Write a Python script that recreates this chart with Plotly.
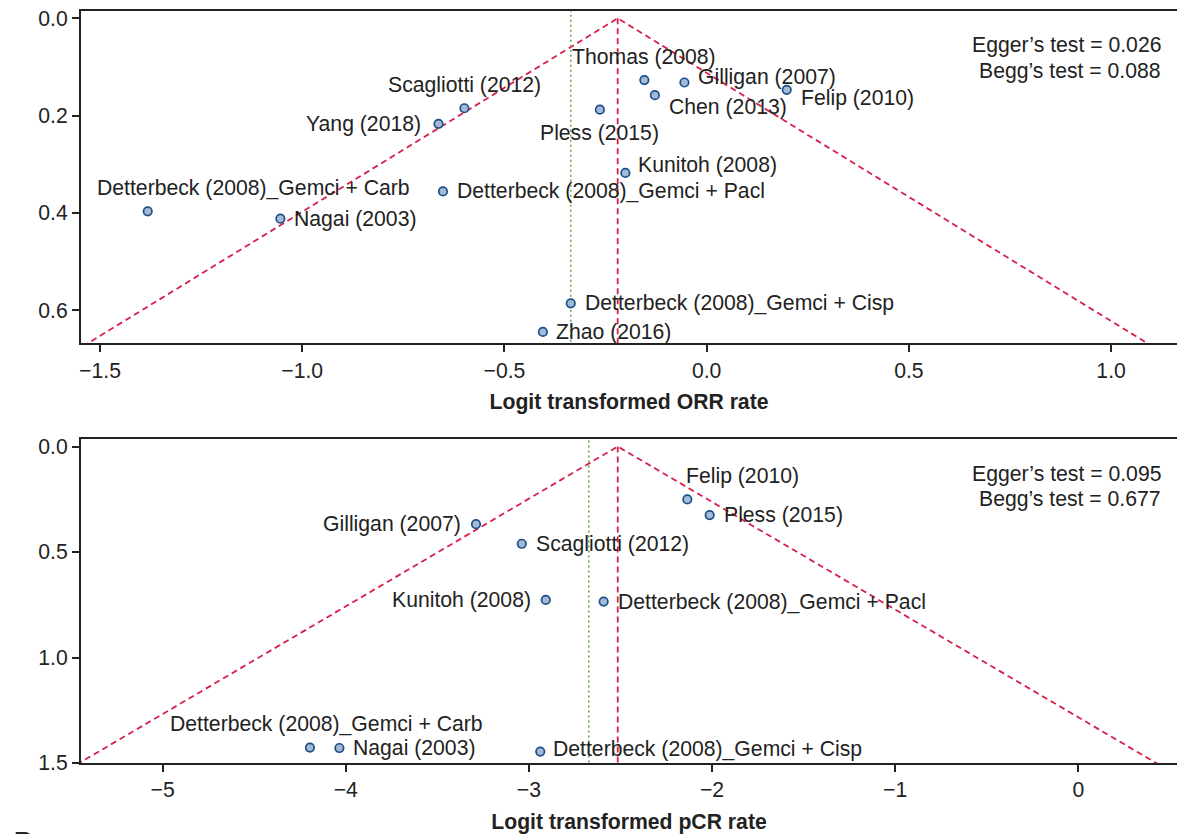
import plotly.graph_objects as go

# --- ORR funnel (top) ---
orr_names = ["Detterbeck (2008)_Gemci + Carb", "Nagai (2003)", "Yang (2018)", "Scagliotti (2012)",
             "Detterbeck (2008)_Gemci + Pacl", "Pless (2015)", "Thomas (2008)", "Gilligan (2007)",
             "Chen (2013)", "Felip (2010)", "Kunitoh (2008)", "Detterbeck (2008)_Gemci + Cisp", "Zhao (2016)"]
orr_logit = [-1.382, -1.054, -0.663, -0.599, -0.652, -0.264, -0.154, -0.055, -0.128, 0.198, -0.201, -0.336, -0.405]
orr_se = [0.397, 0.412, 0.217, 0.185, 0.356, 0.188, 0.127, 0.132, 0.158, 0.147, 0.318, 0.586, 0.645]
orr_pooled = -0.220
orr_adjusted = -0.336
orr_tests = ["Egger’s test = 0.026", "Begg’s test = 0.088"]

# --- pCR funnel (bottom) ---
pcr_names = ["Detterbeck (2008)_Gemci + Carb", "Nagai (2003)", "Gilligan (2007)", "Scagliotti (2012)",
             "Kunitoh (2008)", "Detterbeck (2008)_Gemci + Pacl", "Detterbeck (2008)_Gemci + Cisp",
             "Felip (2010)", "Pless (2015)"]
pcr_logit = [-4.196, -4.035, -3.289, -3.039, -2.908, -2.592, -2.938, -2.135, -2.013]
pcr_se = [1.427, 1.429, 0.368, 0.461, 0.727, 0.735, 1.446, 0.251, 0.325]
pcr_pooled = -2.515
pcr_adjusted = -2.673
pcr_tests = ["Egger’s test = 0.095", "Begg’s test = 0.677"]

# label placement (anchor, xshift px, yshift px)
orr_lab = [("left", -53, 23), ("left", 12, 0), ("right", -16, 0), ("center", 0, 23),
           ("left", 12, 0), ("center", 0, -23), ("center", 0, 23), ("left", 12, 5),
           ("left", 12, -12), ("left", 12, -8), ("left", 11, 8), ("left", 12, 0), ("left", 11, 0)]
pcr_lab = [("left", -142, 24), ("left", 12, 0), ("right", -13, 0), ("left", 12, 0),
           ("right", -13, 0), ("left", 12, 0), ("left", 11, 3), ("left", -3, 23), ("left", 12, 0)]

FONT = "Liberation Sans, Arial, Helvetica, sans-serif"
INK = "#222222"
RED = "#d81e4a"
GREEN = "#6fa84a"
FS = 21.2

fig = go.Figure()
annotations = []


def add_panel(n, names, xs, ses, pooled, adjusted, tests, labs, se_max, test_y):
    xa = "x" if n == 1 else "x2"
    ya = "y" if n == 1 else "y2"
    z = 1.96
    # funnel
    fig.add_trace(go.Scatter(
        x=[pooled - z * se_max, pooled, pooled + z * se_max], y=[se_max, 0, se_max],
        mode="lines", line=dict(color=RED, width=1.8, dash="6px,4px"),
        xaxis=xa, yaxis=ya, showlegend=False, hoverinfo="skip"))
    # pooled estimate
    fig.add_trace(go.Scatter(
        x=[pooled, pooled], y=[0, se_max], mode="lines",
        line=dict(color=RED, width=1.8, dash="6px,4px"),
        xaxis=xa, yaxis=ya, showlegend=False, hoverinfo="skip"))
    # adjusted estimate
    fig.add_trace(go.Scatter(
        x=[adjusted, adjusted], y=[-0.1, se_max], mode="lines",
        line=dict(color=GREEN, width=1.6, dash="2px,3px"),
        xaxis=xa, yaxis=ya, showlegend=False, hoverinfo="skip"))
    fig.add_trace(go.Scatter(
        x=xs, y=ses, mode="markers", text=names,
        marker=dict(size=8.5, color="#a3b9d4", line=dict(color="#1b4f8a", width=1.7)),
        xaxis=xa, yaxis=ya, showlegend=False,
        hovertemplate="%{text}<br>%{x:.3f}, %{y:.3f}<extra></extra>"))
    for name, x, y, (anc, dx, dy) in zip(names, xs, ses, labs):
        annotations.append(dict(
            x=x, y=y, xref=xa, yref=ya, text=name, showarrow=False,
            xanchor=anc, yanchor="middle", xshift=dx, yshift=dy,
            font=dict(size=FS, color=INK, family=FONT)))
    for t, ty in zip(tests, test_y):
        annotations.append(dict(
            x=0.987, y=ty, xref=f"{xa} domain", yref=f"{ya} domain",
            text=t, showarrow=False, xanchor="right", yanchor="middle",
            font=dict(size=FS, color=INK, family=FONT)))


add_panel(1, orr_names, orr_logit, orr_se, orr_pooled, orr_adjusted, orr_tests, orr_lab, 0.75,
          [0.898, 0.819])
add_panel(2, pcr_names, pcr_logit, pcr_se, pcr_pooled, pcr_adjusted, pcr_tests, pcr_lab, 1.7,
          [0.893, 0.815])

# panel letter, mostly cropped off at the bottom edge like in the source figure
annotations.append(dict(x=-0.063, y=-0.081, xref="paper", yref="paper", text="<b>B</b>",
                        showarrow=False, xanchor="left", yanchor="top",
                        font=dict(size=26, color=INK, family=FONT)))

axis_common = dict(showline=True, linecolor=INK, linewidth=2, ticks="outside", ticklen=7,
                   tickwidth=1.5, tickcolor=INK, showgrid=False, zeroline=False,
                   ticklabeloverflow="allow",
                   tickfont=dict(size=FS, color=INK, family=FONT))

fig.update_layout(
    width=1177, height=834,
    margin=dict(l=81, r=0, t=11, b=71),
    paper_bgcolor="white", plot_bgcolor="white",
    font=dict(family=FONT, color=INK),
    xaxis=dict(**axis_common, domain=[0, 1], anchor="y", mirror=True,
               range=[-1.547, 1.163], tickvals=[-1.5, -1.0, -0.5, 0.0, 0.5, 1.0],
               tickformat=".1f", ticklabelstandoff=0,
               title=dict(text="<b>Logit transformed ORR rate</b>", standoff=14,
                          font=dict(size=FS, color=INK, family=FONT))),
    yaxis=dict(**axis_common, domain=[0.5583, 1], anchor="x",
               range=[0.668, -0.015], tickvals=[0.0, 0.2, 0.4, 0.6], tickformat=".1f"),
    xaxis2=dict(**axis_common, domain=[0, 1], anchor="y2", mirror=True,
                range=[-5.446, 0.539], tickvals=[-5, -4, -3, -2, -1, 0],
                ticklabelstandoff=0,
                title=dict(text="<b>Logit transformed pCR rate</b>", standoff=14,
                           font=dict(size=FS, color=INK, family=FONT))),
    yaxis2=dict(**axis_common, domain=[0, 0.4307], anchor="x2",
                range=[1.5, -0.035], tickvals=[0.0, 0.5, 1.0, 1.5], tickformat=".1f"),
    annotations=annotations,
)

# drop the default 8px page margin so the 1177x834 figure fills the window
fig.write_html("out.html", config={"displayModeBar": False},
               post_script="document.body.style.margin='0';document.body.style.overflow='hidden';")
